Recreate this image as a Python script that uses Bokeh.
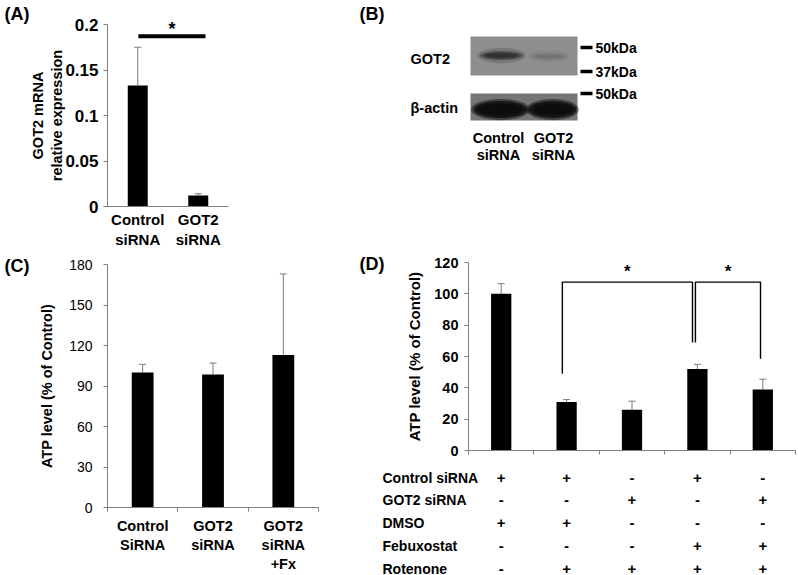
from bokeh.plotting import figure
from bokeh.layouts import row, column
from bokeh.models import (Range1d, FixedTicker, LinearAxis, Whisker, TeeHead,
                          ColumnDataSource, Label)
from bokeh.core.properties import value
from bokeh.embed import file_html
from bokeh.resources import INLINE

FONT = "Liberation Sans"
AXC = "#7f7f7f"
ERRC = "#7a7a7a"

# ---------------- data ----------------
# (A) GOT2 mRNA
a_categories = ["Control\nsiRNA", "GOT2\nsiRNA"]
a_means = [0.133, 0.012]
a_upper = [0.175, 0.014]
a_ticks = [0.0, 0.05, 0.1, 0.15, 0.2]
a_tick_labels = ["0", "0.05", "0.1", "0.15", "0.2"]
a_sig_from, a_sig_to, a_sig_level = 0.51, 1.62, 0.187

# (B) western blot
b_lanes = ["Control\nsiRNA", "GOT2\nsiRNA"]
b_rows = ["GOT2", "β-actin"]
b_got2_band = [0.85, 0.25]
b_actin_band = [1.0, 1.0]
b_markers = ["50kDa", "37kDa", "50kDa"]

# (C) ATP level
c_categories = ["Control\nSiRNA", "GOT2\nsiRNA", "GOT2\nsiRNA\n+Fx"]
c_means = [100, 98.5, 113]
c_upper = [106, 107, 173]
c_ticks = [0, 30, 60, 90, 120, 150, 180]

# (D) ATP level with rotenone
d_means = [100, 31, 26, 52, 39]
d_upper = [106.5, 32.5, 31.5, 55, 45.5]
d_ticks = [0, 20, 40, 60, 80, 100, 120]
d_rows = ["Control siRNA", "GOT2 siRNA", "DMSO", "Febuxostat", "Rotenone"]
d_signs = [["+", "+", "-", "+", "-"],
           ["-", "-", "+", "-", "+"],
           ["+", "+", "-", "-", "-"],
           ["-", "-", "-", "+", "+"],
           ["-", "+", "+", "+", "+"]]
# (left bar, right bar, top, left drop end, right drop end)
d_brackets = [(1, 3, 107.5, 49, 69), (3, 4, 107.5, 69, 58.5)]
d_bracket_shift = [(-0.065, -0.075), (-0.03, -0.035)]


# ---------------- helpers ----------------
class Panel:
    """A figure whose frame is the whole canvas; the data box sits at given pixels."""

    def __init__(self, W, H, left, right, top, bottom, x0, x1, y0, y1):
        self.left, self.bottom, self.x0, self.y0 = left, bottom, x0, y0
        self.kx = (x1 - x0) / (right - left)
        self.ky = (y1 - y0) / (bottom - top)
        xr = Range1d(x0 - left * self.kx, x1 + (W - right) * self.kx)
        yr = Range1d(y0 - (H - bottom) * self.ky, y1 + top * self.ky)
        p = figure(width=W, height=H, x_range=xr, y_range=yr,
                   output_backend="svg", toolbar_location=None,
                   x_axis_type=None, y_axis_type=None,
                   min_border_left=0, min_border_right=0,
                   min_border_top=0, min_border_bottom=0)
        p.outline_line_color = None
        p.background_fill_color = "white"
        p.border_fill_color = "white"
        self.p = p

    def x(self, px):
        return self.x0 + (px - self.left) * self.kx

    def y(self, py):
        return self.y0 + (self.bottom - py) * self.ky


def style_axis(ax, size, bold=True, standoff=5):
    ax.axis_line_color = AXC
    ax.axis_line_width = 1
    ax.major_tick_line_color = AXC
    ax.minor_tick_line_color = AXC
    ax.major_tick_out = 4
    ax.major_tick_in = 0
    ax.minor_tick_out = 0
    ax.minor_tick_in = 0
    ax.major_label_text_font = FONT
    ax.major_label_text_font_size = size
    ax.major_label_text_font_style = "bold" if bold else "normal"
    ax.major_label_text_color = "black"
    ax.major_label_standoff = standoff
    ax.axis_label_text_font = FONT
    ax.axis_label_text_font_style = "bold"
    ax.axis_label_text_color = "black"


def panel_label(p, text, x, y):
    p.add_layout(Label(x=x, y=y, text=text, text_font=FONT, text_font_size="18px",
                       text_font_style="bold", text_align="left", text_baseline="top",
                       text_color="black"))


def bars(p, means, upper, width):
    xs = [i + 0.5 for i in range(len(means))]
    src = ColumnDataSource(dict(x=xs, top=means, upper=upper))
    p.vbar(x="x", top="top", bottom=0, width=width, source=src,
           fill_color="black", line_color=None)
    p.add_layout(Whisker(source=src, base="x", upper="upper", lower="top",
                         dimension="height", line_color=ERRC, line_width=1,
                         upper_head=TeeHead(size=7, line_color=ERRC, line_width=1),
                         lower_head=None))


# ---------------- panel A ----------------
nA = len(a_categories)
A = Panel(356, 253, 107, 228, 24, 206, 0, nA, 0, 0.2)
pa = A.p
bars(pa, a_means, a_upper, 0.33)
ya = LinearAxis(ticker=FixedTicker(ticks=a_ticks, minor_ticks=[]),
                major_label_overrides={t: l for t, l in zip(a_ticks, a_tick_labels)},
                axis_label="GOT2 mRNA\nrelative expression",
                fixed_location=0, bounds=(0, 0.2))
style_axis(ya, "17px", True, 5)
ya.axis_label_text_font_size = "14.5px"
ya.axis_label_standoff = -3
pa.add_layout(ya, "left")
a_centers = [i + 0.5 for i in range(nA)]
xa = LinearAxis(ticker=FixedTicker(ticks=a_centers, minor_ticks=[]),
                major_label_overrides={c: l for c, l in zip(a_centers, a_categories)},
                fixed_location=0, bounds=(0, nA))
style_axis(xa, "15px", True, 4)
xa.major_tick_out = 0
pa.add_layout(xa, "below")
pa.line(x=[a_sig_from, a_sig_to], y=[a_sig_level, a_sig_level], line_color="black", line_width=4)
pa.add_layout(Label(x=(a_sig_from + a_sig_to) / 2, y=0.1955, text="*", text_font=FONT,
                    text_font_size="18px", text_font_style="bold", text_align="center",
                    text_baseline="middle", text_color="black"))
panel_label(pa, "(A)", A.x(4), A.y(3))

# ---------------- panel B (blot) ----------------
# panel coordinates: x = px from the panel's left edge, y = px from 8px below page top
B_W, B_H, OFF = 442, 253, 8
pb = figure(width=B_W, height=B_H, x_range=Range1d(0, B_W), y_range=Range1d(B_H - OFF, -OFF),
            output_backend="svg", toolbar_location=None, x_axis_type=None, y_axis_type=None,
            min_border_left=0, min_border_right=0, min_border_top=0, min_border_bottom=0)
pb.outline_line_color = None
LANE0, LANE_STEP = 142, 55
STRIP_X, STRIP_W = 167.5, 107
strip_y = [47.5, 98.5]
strip_h = [39, 27]
strip_col = ["#8e8e8e", "#767676"]
pb.rect(x=[STRIP_X] * 2, y=strip_y, width=[STRIP_W] * 2, height=strip_h,
        fill_color=strip_col, line_color=None)
for wscale, hscale, alpha in [(1.15, 1.7, 0.25), (1.0, 1.0, 0.55), (0.8, 0.6, 0.7)]:
    bx = [LANE0 + 3, LANE0 + LANE_STEP - 5]
    bw = [42 * wscale, 36 * wscale]
    pb.ellipse(x=bx, y=[47, 48], width=bw, height=[9 * hscale, 7 * hscale],
               fill_color=["#202020", "#555555"],
               fill_alpha=[alpha * b_got2_band[0], alpha * b_got2_band[1] * 1.6],
               line_color=None)
for wscale, hscale, alpha in [(1.05, 1.25, 0.5), (0.95, 1.0, 0.8), (0.8, 0.7, 0.9)]:
    bx = [LANE0 + 2, LANE0 + LANE_STEP - 1]
    bw = [56 * wscale, 50 * wscale]
    pb.ellipse(x=bx, y=[101, 101], width=bw, height=[17 * hscale, 17 * hscale],
               fill_color="#0c0c0c", fill_alpha=[alpha * v for v in b_actin_band],
               line_color=None)
mk_y = [39, 63, 85]
pb.segment(x0=[224] * 3, y0=mk_y, x1=[236] * 3, y1=mk_y, line_color="black", line_width=3.5)
pb.text(x=[239] * 3, y=mk_y, text=b_markers, text_font=value(FONT), text_font_size="14px",
        text_font_style="bold", text_baseline="middle", text_align="left", text_color="black")
pb.text(x=[54, 54], y=[50, 99], text=b_rows, text_font=value(FONT), text_font_size="14.5px",
        text_font_style="bold", text_baseline="middle", text_align="left", text_color="black")
lx, ly, lt = [], [], []
for i, lab in enumerate(b_lanes):
    for j, line in enumerate(lab.split("\n")):
        lx.append(LANE0 + i * LANE_STEP)
        ly.append(129 + 17 * j)
        lt.append(line)
pb.text(x=lx, y=ly, text=lt, text_font=value(FONT), text_font_size="14.5px",
        text_font_style="bold", text_baseline="middle", text_align="center", text_color="black")
panel_label(pb, "(B)", 3, -5)

# ---------------- panel C ----------------
nC = len(c_categories)
C = Panel(356, 322, 107, 318, 11, 254, 0, nC, 0, 180)
pc = C.p
bars(pc, c_means, c_upper, 0.31)
yc = LinearAxis(ticker=FixedTicker(ticks=c_ticks, minor_ticks=[]),
                axis_label="ATP level (% of Control)", fixed_location=0, bounds=(0, 180))
style_axis(yc, "14px", False, 11)
yc.axis_label_text_font_size = "14.5px"
yc.axis_label_standoff = 11
pc.add_layout(yc, "left")
c_centers = [i + 0.5 for i in range(nC)]
xc = LinearAxis(ticker=FixedTicker(ticks=c_centers, minor_ticks=list(range(nC + 1))),
                major_label_overrides={c: l for c, l in zip(c_centers, c_categories)},
                fixed_location=0, bounds=(0, nC))
style_axis(xc, "14.5px", True, 6)
xc.major_tick_out = 0
xc.minor_tick_out = 4
pc.add_layout(xc, "below")
panel_label(pc, "(C)", C.x(4), C.y(2))

# ---------------- panel D (+ condition table) ----------------
nD = len(d_means)
D = Panel(442, 322, 112, 439, 9, 197, 0, nD, 0, 120)
pd = D.p
bars(pd, d_means, d_upper, 0.31)
yd = LinearAxis(ticker=FixedTicker(ticks=d_ticks, minor_ticks=[]),
                axis_label="ATP level (% of Control)", fixed_location=0, bounds=(0, 120))
style_axis(yd, "14.5px", True, 6)
yd.axis_label_text_font_size = "15px"
yd.axis_label_standoff = 8
pd.add_layout(yd, "left")
xd = LinearAxis(ticker=FixedTicker(ticks=[], minor_ticks=list(range(nD + 1))),
                fixed_location=0, bounds=(0, nD))
style_axis(xd, "14px", True, 0)
xd.major_tick_out = 0
xd.minor_tick_out = 4
pd.add_layout(xd, "below")
bxs, bys, sx, sy = [], [], [], []
for (i, j, top, di, dj), (oi, oj) in zip(d_brackets, d_bracket_shift):
    xi, xj = i + 0.5 + oi, j + 0.5 + oj
    bxs.append([xi, xi, xj, xj])
    bys.append([di, top, top, dj])
    sx.append((xi + xj) / 2)
    sy.append(top + 6.5)
pd.multi_line(xs=bxs, ys=bys, line_color="black", line_width=1.4)
pd.text(x=sx, y=sy, text=["*"] * len(sx), text_font=value(FONT), text_font_size="17px",
        text_font_style="bold", text_align="center", text_baseline="middle", text_color="black")
panel_label(pd, "(D)", D.x(3), D.y(0))

# table rows: own vertical scale (row index), first row 224px below panel top
ROW_STEP, FIRST_ROW, D_H = 22.75, 224, 322
pd.extra_y_ranges = {"table": Range1d((D_H - FIRST_ROW) / ROW_STEP, -FIRST_ROW / ROW_STEP)}
pd.text(x=[D.x(26)] * len(d_rows), y=list(range(len(d_rows))), text=d_rows,
        y_range_name="table", text_font=value(FONT), text_font_size="14px",
        text_font_style="bold", text_align="left", text_baseline="middle", text_color="black")
tx, ty, tt = [], [], []
for r, signs in enumerate(d_signs):
    for i, s in enumerate(signs):
        tx.append(i + 0.5)
        ty.append(r)
        tt.append(s)
pd.text(x=tx, y=ty, text=tt, y_range_name="table", text_font=value(FONT),
        text_font_size="15px", text_font_style="bold", text_align="center",
        text_baseline="middle", text_color="black")

layout = column(row(pa, pb), row(pc, pd))
open("out.html", "w").write(file_html(layout, INLINE))
